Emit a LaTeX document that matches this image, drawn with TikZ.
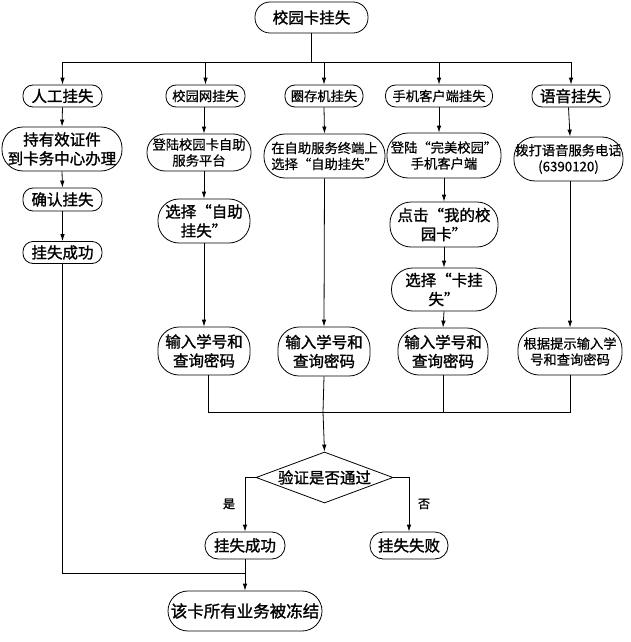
\documentclass[tikz,border=0pt]{standalone}
\usepackage{fontspec}
\setmainfont{Noto Sans CJK SC}
\newfontfamily\thickfont{Noto Sans CJK SC}[FakeBold=1.4]
\newfontfamily\thinfont{Noto Sans CJK SC}[FakeBold=0.6]
\usepackage{tikz}
\usetikzlibrary{arrows.meta,shapes.geometric}

\begin{document}
\begin{tikzpicture}[x=1pt,y=-1pt,line width=0.8pt,
    >={Latex[length=7pt,width=4.5pt]},
    big/.style={font=\fontsize{15.5}{19}\selectfont\thickfont},
    small/.style={font=\fontsize{13.3}{16}\selectfont\thinfont},
    box/.style={draw,rectangle,rounded corners=10pt,inner sep=0pt,align=center,
                minimum width=#1,minimum height=22pt},
    tallbox/.style={draw,rectangle,rounded corners=21pt,inner sep=0pt,align=center,
                minimum width=#1,minimum height=45pt}]
	\useasboundingbox (0,0) rectangle (630,642);

	% top
	\node[box=113pt,minimum height=31pt,rounded corners=15pt,big] (top) at (311.5,17.5) {校园卡挂失};
	\coordinate (split) at (311.5,62);

	% second row
	\node[box=79pt,big] (ren) at (62.5,96) {人工挂失};
	\node[box=79pt,small] (xyw) at (205.5,96) {校园网挂失};
	\node[box=78pt,small] (qcj) at (324,96) {圈存机挂失};
	\node[box=107pt,small] (sj) at (439,96) {手机客户端挂失};
	\node[box=78pt,big] (yy) at (571,96) {语音挂失};

	% column 1
	\node[tallbox=120pt,minimum height=44pt,big] (chiyou) at (62,149) {持有效证件\\到卡务中心办理};
	\node[box=79pt,minimum height=23pt,big] (queren) at (62.5,199.5) {确认挂失};
	\node[box=79pt,big] (cg1) at (62.5,252.5) {挂失成功};

	% column 2
	\node[tallbox=104pt,minimum height=37pt,rounded corners=18pt,small] (dl) at (199,152.5) {登陆校园卡自助\\服务平台};
	\node[tallbox=92pt,minimum height=44pt,big] (zz) at (204,221) {选择“自助\\挂失”};
	\node[tallbox=92pt,minimum height=48pt,big] (sr2) at (204,351) {输入学号和\\查询密码};

	% column 3
	\node[tallbox=121pt,minimum height=44pt,small] (zd) at (324.5,156) {在自助服务终端上\\选择“自助挂失”};
	\node[tallbox=92pt,minimum height=49pt,big] (sr3) at (324,351.5) {输入学号和\\查询密码};

	% column 4
	\node[tallbox=114pt,small] (wm) at (444,155.5) {登陆“完美校园”\\手机客户端};
	\node[tallbox=108pt,big] (dj) at (444,224.5) {点击“我的校\\园卡”};
	\node[tallbox=105pt,minimum height=43pt,big] (kg) at (444,289.5) {选择“卡挂\\失”};
	\node[tallbox=90pt,minimum height=47pt,big] (sr4) at (443,351.5) {输入学号和\\查询密码};

	% column 5
	\node[tallbox=109pt,minimum height=44pt,small] (bd) at (568.5,159) {拨打语音服务电话\\(6390120)};
	\node[tallbox=104pt,minimum height=47pt,small] (gj) at (570,351.5) {根据提示输入学\\号和查询密码};

	% check
	\coordinate (hb) at (323,412);
	\node[diamond,draw,inner sep=0pt,minimum width=137pt,minimum height=51pt,aspect=2.7,
	      label={[big]center:验证是否通过}] (yz) at (324.5,477.5) {};
	\node[font=\fontsize{12}{14}\selectfont\thickfont] (shi) at (229,504) {是};
	\node[font=\fontsize{12}{14}\selectfont\thickfont] (fou) at (424,504) {否};
	\node[box=80pt,minimum height=27pt,rounded corners=13pt,big] (cg2) at (245,545.5) {挂失成功};
	\node[box=78pt,minimum height=27pt,rounded corners=13pt,big] (sb) at (409,545.5) {挂失失败};
	\coordinate (mg) at (245,573);
	\node[box=154pt,minimum height=40pt,rounded corners=20pt,font=\fontsize{16.5}{19}\selectfont\thickfont] (dj2) at (245,611) {该卡所有业务被冻结};

	% connectors
	\draw (top.south) -- (split);
	\draw[->] (split) -| (ren.north);
	\draw[->] (split) -| (xyw.north);
	\draw[->] (split) -| (qcj.north);
	\draw[->] (split) -| (sj.north);
	\draw[->] (split) -| (yy.north);

	\draw[->] (ren.south) -- (chiyou.north);
	\draw[->] (chiyou.south) -- (queren.north);
	\draw[->] (queren.south) -- (cg1.north);
	\draw (cg1.south) |- (mg);

	\draw[->] (xyw.south -| zz.north) -- (zz.north |- dl.north);
	\draw[->] (zz.north |- dl.south) -- (zz.north);
	\draw[->] (zz.south) -- (sr2.north);

	\draw[->] (qcj.south) -- (zd.north);
	\draw[->] (zd.south) -- (sr3.north);

	\draw[->] (sj.south) -- (sj.south |- wm.north);
	\draw[->] (wm.south) -- (dj.north);
	\draw[->] (dj.south) -- (kg.north);
	\draw[->] (kg.south) -- (sr4.north);

	\draw[->] (yy.south -| bd.south) -- (bd.north -| gj.north);
	\draw[->] (bd.south -| gj.north) -- (gj.north);

	\draw ([xshift=4pt]sr2.south) |- (hb);
	\draw (sr3.south) -- (hb);
	\draw (sr4.south) |- (hb);
	\draw (gj.south) |- (hb);
	\draw[->] (hb) -- (yz.north);

	\draw[->] (yz.west) -| (cg2.north);
	\draw[->] (yz.east) -| (sb.north);
	\draw[->] (cg2.south) -- (dj2.north);
\end{tikzpicture}
\end{document}
